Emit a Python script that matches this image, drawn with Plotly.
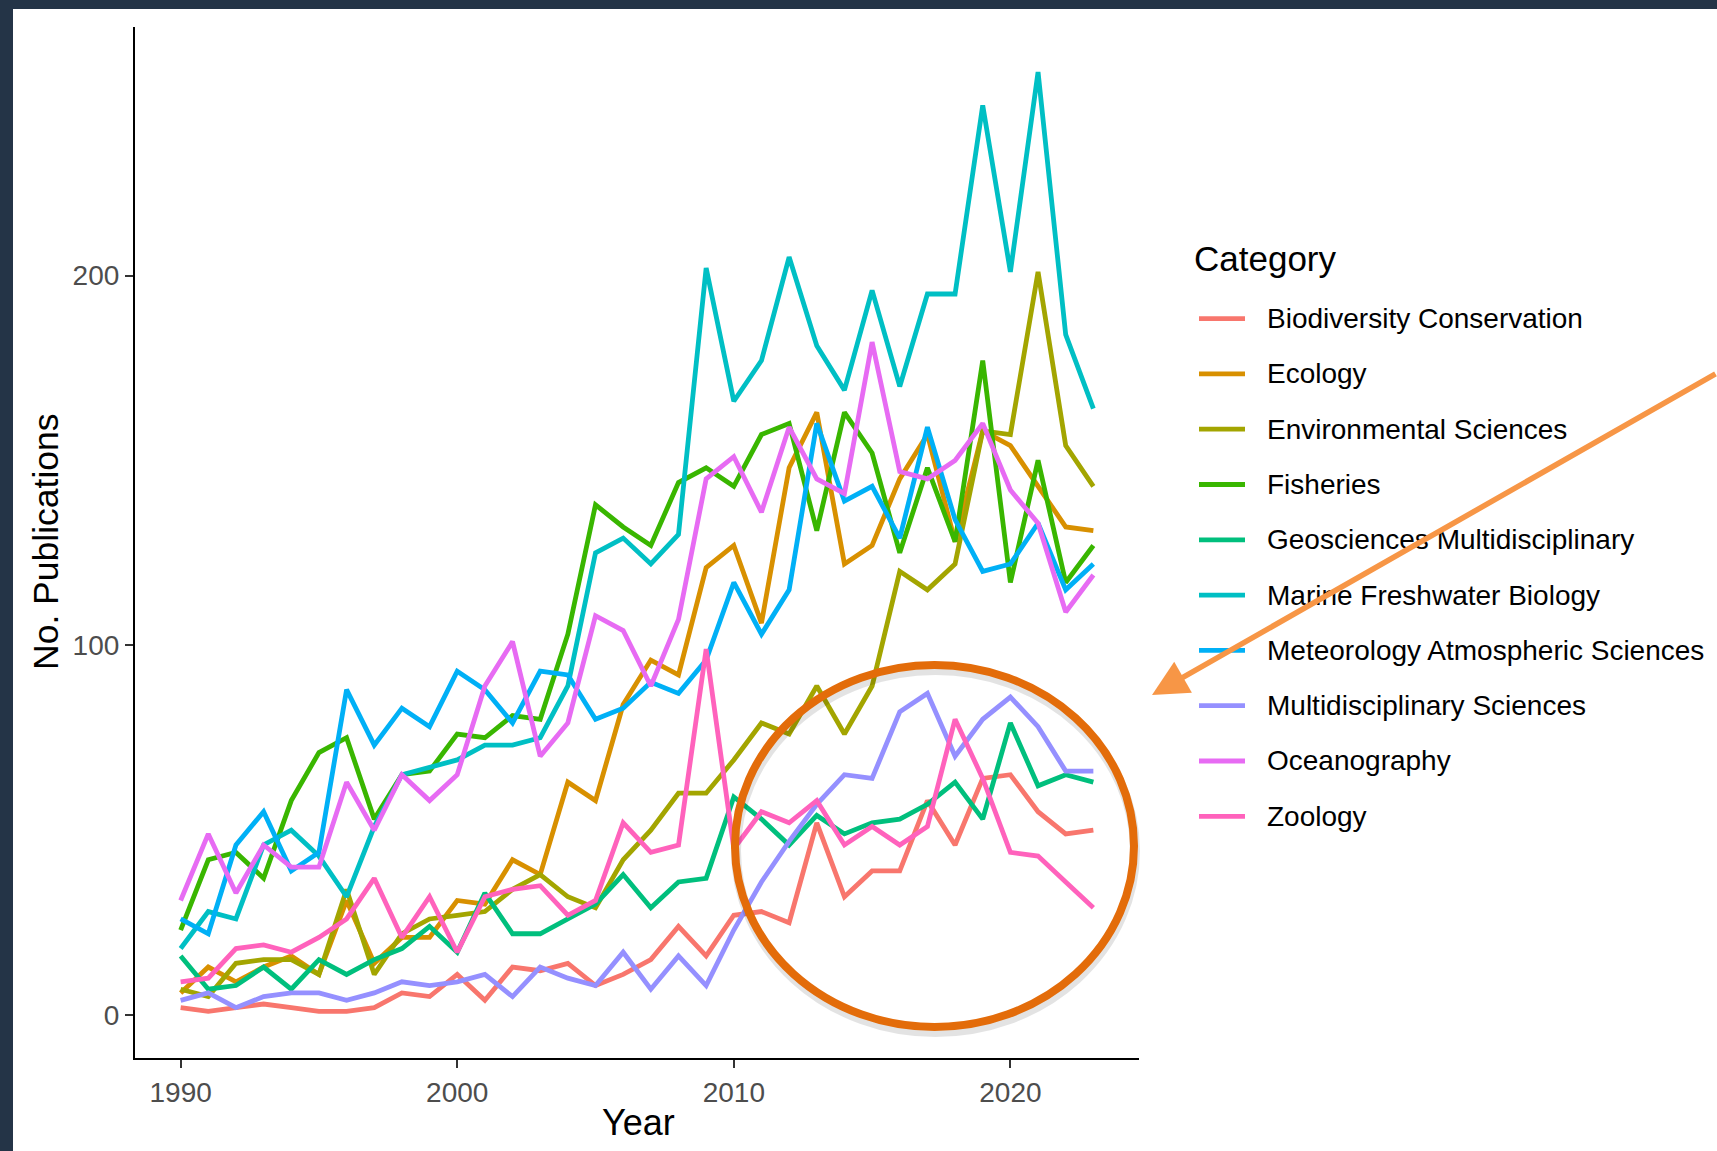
import plotly.graph_objects as go

# ---- data: publications per year and Web of Science category ----
years = list(range(1990, 2024))

categories = [
    "Biodiversity Conservation",
    "Ecology",
    "Environmental Sciences",
    "Fisheries",
    "Geosciences Multidisciplinary",
    "Marine Freshwater Biology",
    "Meteorology Atmospheric Sciences",
    "Multidisciplinary Sciences",
    "Oceanography",
    "Zoology",
]

biodiversity_conservation = [2, 1, 2, 3, 2, 1, 1, 2, 6, 5, 11, 4, 13, 12, 14, 8, 11, 15, 24, 16,
                             27, 28, 25, 52, 32, 39, 39, 58, 46, 64, 65, 55, 49, 50]
ecology = [6, 13, 9, 13, 16, 11, 31, 14, 21, 21, 31, 30, 42, 38, 63, 58, 84, 96, 92, 121,
           127, 106, 148, 163, 122, 127, 145, 157, 128, 158, 154, 143, 132, 131]
environmental_sciences = [7, 5, 14, 15, 15, 11, 34, 11, 22, 26, 27, 28, 34, 38, 32, 29, 42, 50, 60, 60,
                          69, 79, 76, 89, 76, 89, 120, 115, 122, 158, 157, 201, 154, 143]
fisheries = [23, 42, 44, 37, 58, 71, 75, 53, 65, 66, 76, 75, 81, 80, 103, 138, 132, 127, 144, 148,
             143, 157, 160, 131, 163, 152, 125, 148, 128, 177, 117, 150, 117, 127]
geosciences_multidisciplinary = [16, 7, 8, 13, 7, 15, 11, 15, 18, 24, 17, 33, 22, 22, 26, 30, 38, 29, 36, 37,
                                 59, 53, 46, 54, 49, 52, 53, 57, 63, 53, 79, 62, 65, 63]
marine_freshwater_biology = [18, 28, 26, 46, 50, 43, 32, 51, 65, 67, 69, 73, 73, 75, 89, 125, 129, 122, 130, 202,
                             166, 177, 205, 181, 169, 196, 170, 195, 195, 246, 201, 255, 184, 164]
meteorology_atmospheric_sciences = [26, 22, 46, 55, 39, 44, 88, 73, 83, 78, 93, 88, 79, 93, 92, 80, 83, 90, 87, 96,
                                    117, 103, 115, 160, 139, 143, 129, 159, 134, 120, 122, 133, 115, 122]
multidisciplinary_sciences = [4, 6, 2, 5, 6, 6, 4, 6, 9, 8, 9, 11, 5, 13, 10, 8, 17, 7, 16, 8,
                              23, 36, 47, 57, 65, 64, 82, 87, 70, 80, 86, 78, 66, 66]
oceanography = [31, 49, 33, 46, 40, 40, 63, 50, 65, 58, 65, 89, 101, 70, 79, 108, 104, 89, 107, 145,
                151, 136, 159, 145, 141, 182, 147, 145, 150, 160, 142, 133, 109, 119]
zoology = [9, 10, 18, 19, 17, 21, 26, 37, 21, 32, 17, 32, 34, 35, 27, 31, 52, 44, 46, 99,
           45, 55, 52, 58, 46, 51, 46, 51, 80, 64, 44, 43, 36, 29]

series = [
    biodiversity_conservation, ecology, environmental_sciences, fisheries,
    geosciences_multidisciplinary, marine_freshwater_biology,
    meteorology_atmospheric_sciences, multidisciplinary_sciences,
    oceanography, zoology,
]

x_ticks = [1990, 2000, 2010, 2020]
y_ticks = [0, 100, 200]

# ggplot2 default hue palette for ten groups
colors = ["#F8766D", "#D89000", "#A3A500", "#39B600", "#00BF7D",
          "#00BFC4", "#00B0F6", "#9590FF", "#E76BF3", "#FF62BC"]

# ---- page geometry (pixels) ----
W, H = 1717, 1151
ML, MR, MT, MB = 135, 578, 27, 93
PW, PH = W - ML - MR, H - MT - MB
FONT = "Liberation Sans, Arial, sans-serif"
LINE_W = 4.8


def px(x):
    return (x - ML) / PW


def py(y):
    return (H - MB - y) / PH


fig = go.Figure()
for name, vals, col in zip(categories, series, colors):
    fig.add_trace(go.Scatter(
        x=years, y=vals, mode="lines", name=name,
        line=dict(color=col, width=LINE_W),
        showlegend=False,
    ))

shapes = []
annotations = []

# dark slide frame along the top and left edges
frame = "#243447"
shapes.append(dict(type="rect", xref="paper", yref="paper", layer="below",
                   x0=px(0), x1=px(W), y0=py(0), y1=py(9),
                   fillcolor=frame, line=dict(width=0)))
shapes.append(dict(type="rect", xref="paper", yref="paper", layer="below",
                   x0=px(0), x1=px(13), y0=py(0), y1=py(H),
                   fillcolor=frame, line=dict(width=0)))

# legend: title, key lines and labels
annotations.append(dict(text="Category", xref="paper", yref="paper",
                        x=px(1192), y=py(258), xanchor="left", yanchor="middle",
                        showarrow=False, font=dict(family=FONT, size=35, color="black")))
for i, (name, col) in enumerate(zip(categories, colors)):
    yy = 318.6 + i * 55.3
    shapes.append(dict(type="line", xref="paper", yref="paper",
                       x0=px(1199), x1=px(1245), y0=py(yy), y1=py(yy),
                       line=dict(color=col, width=LINE_W)))
    annotations.append(dict(text=name, xref="paper", yref="paper",
                            x=px(1265), y=py(yy), xanchor="left", yanchor="middle",
                            showarrow=False, font=dict(family=FONT, size=28, color="black")))

# axis titles
annotations.append(dict(text="Year", xref="paper", yref="paper",
                        x=px(638), y=py(1122), xanchor="center", yanchor="middle",
                        showarrow=False, font=dict(family=FONT, size=36, color="black")))
annotations.append(dict(text="No. Publications", xref="paper", yref="paper",
                        x=px(46), y=py(542), xanchor="center", yanchor="middle",
                        textangle=-90, showarrow=False,
                        font=dict(family=FONT, size=35.5, color="black")))

# highlight ring around the recent low-count categories (soft shadow first)
cx0, cx1, cy0, cy1 = 735, 1134, 665, 1027
shapes.append(dict(type="circle", xref="paper", yref="paper",
                   x0=px(cx0 + 1), x1=px(cx1 + 1), y0=py(cy0 + 5), y1=py(cy1 + 5),
                   line=dict(color="rgba(0,0,0,0.11)", width=10)))
shapes.append(dict(type="circle", xref="paper", yref="paper",
                   x0=px(cx0), x1=px(cx1), y0=py(cy0), y1=py(cy1),
                   line=dict(color="#E36C0A", width=8)))

# pointer arrow coming in from the right edge
tip_x, tip_y = 1152, 695
annotations.append(dict(text="", xref="paper", yref="paper",
                        x=px(tip_x), y=py(tip_y), ax=588, ay=-322,
                        axref="pixel", ayref="pixel", showarrow=True,
                        arrowhead=2, arrowsize=1.3, arrowwidth=5.5,
                        arrowcolor="#F79646"))

axis_common = dict(
    showgrid=False, zeroline=False, showline=True,
    linecolor="black", linewidth=2.2,
    ticks="outside", ticklen=8, tickwidth=2.2, tickcolor="#333333",
    tickfont=dict(family=FONT, size=28, color="#4D4D4D"),
)

fig.update_layout(
    width=W, height=H,
    margin=dict(l=ML, r=MR, t=MT, b=MB, pad=0),
    paper_bgcolor="white", plot_bgcolor="white",
    font=dict(family=FONT),
    showlegend=False,
    xaxis=dict(range=[1988.35, 2024.65], tickvals=x_ticks,
               ticktext=[str(v) for v in x_ticks], **axis_common),
    yaxis=dict(range=[-11.6, 267.2], tickvals=y_ticks,
               ticktext=[str(v) for v in y_ticks], **axis_common),
    shapes=shapes,
    annotations=annotations,
)

fig.write_html("out.html")
